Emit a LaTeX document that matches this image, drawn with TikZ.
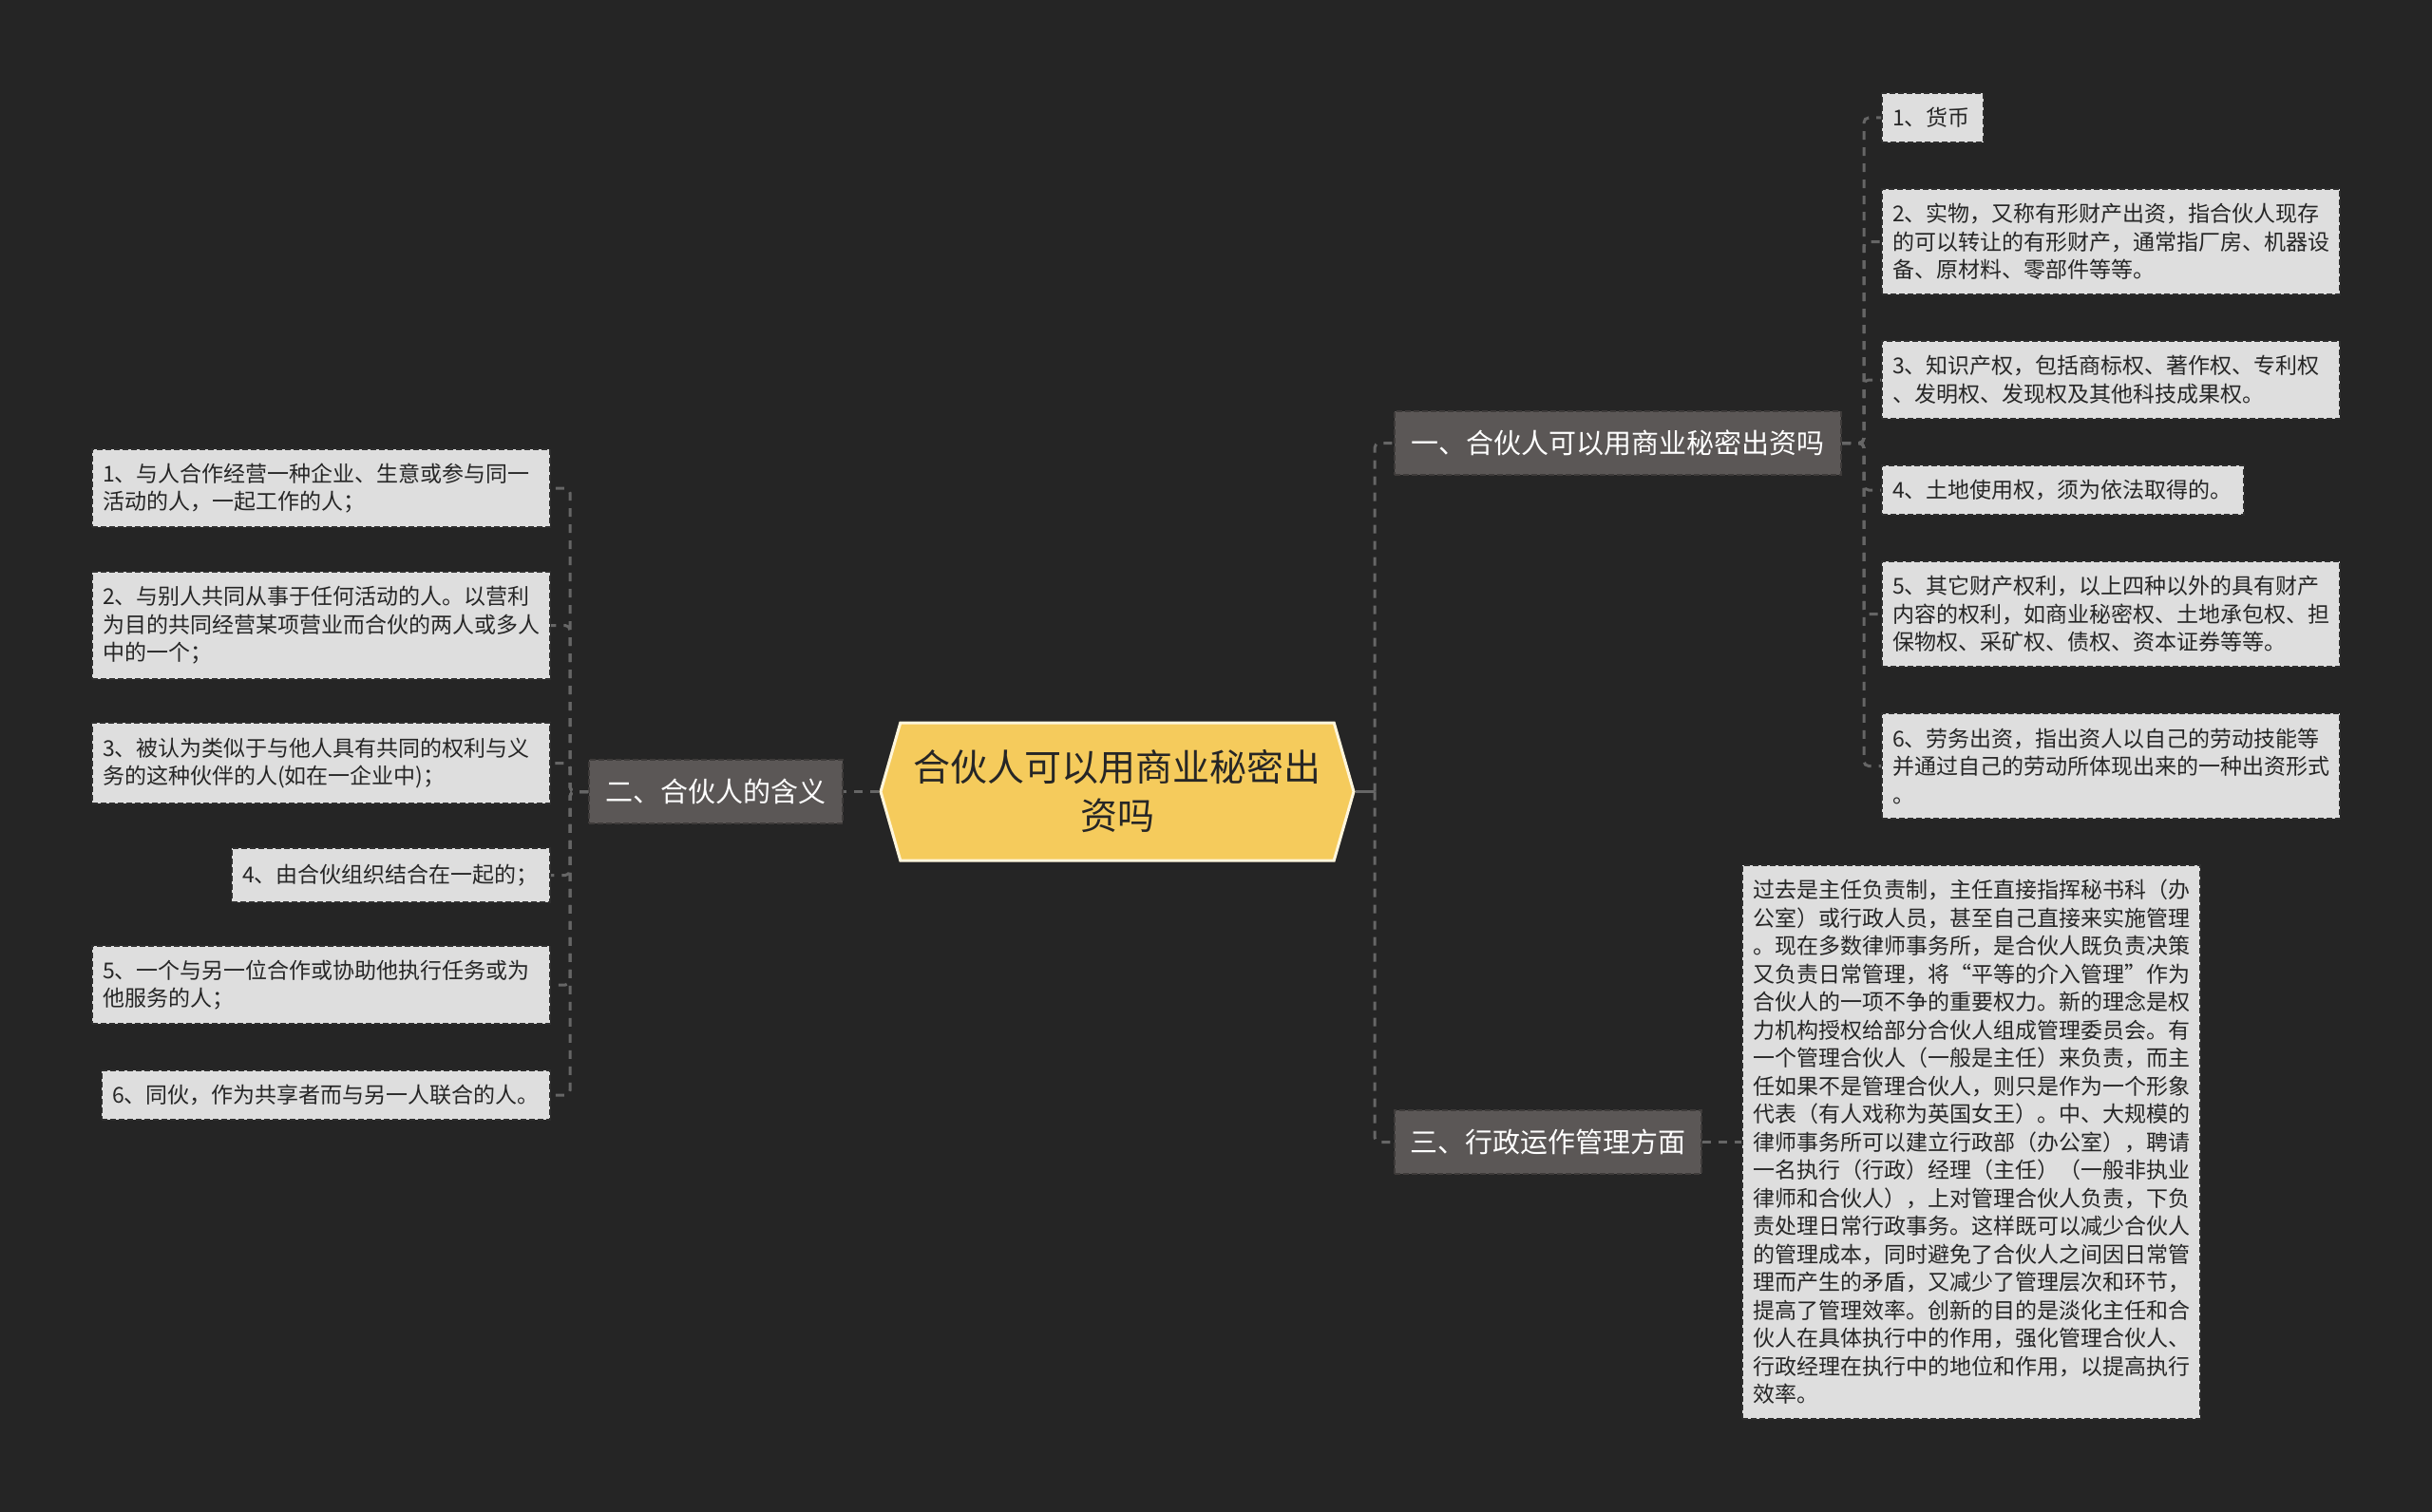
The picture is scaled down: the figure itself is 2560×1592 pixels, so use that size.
\documentclass[tikz,border=0pt]{standalone}
\usepackage{fontspec}
\setmainfont{Noto Sans CJK SC}
\usepackage{xcolor}
\usetikzlibrary{shapes.symbols}
\definecolor{bgcol}{HTML}{252525}
\definecolor{rootfill}{HTML}{F5CB5C}
\definecolor{rootline}{HTML}{FFF6DC}
\definecolor{subfill}{HTML}{5B5756}
\definecolor{subline}{HTML}{3E3B3A}
\definecolor{leaffill}{HTML}{DEDEDE}
\definecolor{leafline}{HTML}{2E2E2E}
\definecolor{linkcol}{HTML}{666666}

\begin{document}
\begin{tikzpicture}[x=1pt,y=-1pt,
root/.style={shape=signal,signal to=west and east,signal pointer angle=148,fill=rootfill,draw=rootline,line width=3pt,
minimum width=498pt,minimum height=145pt,inner sep=0pt,align=center,text=black!85,font=\fontsize{39}{51}\selectfont},
sub/.style={fill=subfill,draw=subline,line width=2pt,dash pattern=on 6pt off 3pt,minimum height=67pt,inner sep=0pt,
text=white,font=\fontsize{29}{35}\selectfont},
leaf/.style={fill=leaffill,draw=leafline,line width=2pt,dash pattern=on 6pt off 3pt,inner xsep=11pt,inner ysep=0pt,
align=left,text=black!85,font=\fontsize{23}{29.5}\selectfont},
conn/.style={draw=linkcol,line width=3pt,dash pattern=on 9pt off 8pt,rounded corners=5pt}]
\useasboundingbox (0,0) rectangle (2560,1592);
\fill[bgcol] (0,0) rectangle (2560,1592);

\node[root] (root) at (1176,833.5) {合伙人可以用商业秘密出\\资吗};
\node[sub,minimum width=470pt] (b1) at (1703,466.5) {一、合伙人可以用商业秘密出资吗};
\node[sub,minimum width=267pt] (b2) at (753.5,833.5) {二、合伙人的含义};
\node[sub,minimum width=323pt] (b3) at (1629.5,1202.5) {三、行政运作管理方面};

\node[leaf,anchor=east,text width=460pt,minimum height=82pt] (l1) at (580,514) {1、与人合作经营一种企业、生意或参与同一\\活动的人，一起工作的人；};
\node[leaf,anchor=east,text width=460pt,minimum height=113pt] (l2) at (580,658.5) {2、与别人共同从事于任何活动的人。以营利\\为目的共同经营某项营业而合伙的两人或多人\\中的一个；};
\node[leaf,anchor=east,text width=460pt,minimum height=85pt] (l3) at (580,803.5) {3、被认为类似于与他人具有共同的权利与义\\务的这种伙伴的人(如在一企业中)；};
\node[leaf,anchor=east,text width=313pt,minimum height=57pt] (l4) at (580,921.5) {4、由合伙组织结合在一起的；};
\node[leaf,anchor=east,text width=460pt,minimum height=82pt] (l5) at (580,1037) {5、一个与另一位合作或协助他执行任务或为\\他服务的人；};
\node[leaf,anchor=east,text width=450pt,minimum height=52pt] (l6) at (580,1153) {6、同伙，作为共享者而与另一人联合的人。};

\node[leaf,anchor=west,text width=85pt,minimum height=52pt] (r1) at (1980,124) {1、货币};
\node[leaf,anchor=west,text width=460pt,minimum height=111pt] (r2) at (1980,254.5) {2、实物，又称有形财产出资，指合伙人现存\\的可以转让的有形财产，通常指厂房、机器设\\备、原材料、零部件等等。};
\node[leaf,anchor=west,text width=460pt,minimum height=82pt] (r3) at (1980,400) {3、知识产权，包括商标权、著作权、专利权\\、发明权、发现权及其他科技成果权。};
\node[leaf,anchor=west,text width=359pt,minimum height=52pt] (r4) at (1980,516) {4、土地使用权，须为依法取得的。};
\node[leaf,anchor=west,text width=460pt,minimum height=111pt] (r5) at (1980,646.5) {5、其它财产权利，以上四种以外的具有财产\\内容的权利，如商业秘密权、土地承包权、担\\保物权、采矿权、债权、资本证券等等。};
\node[leaf,anchor=west,text width=460pt,minimum height=111pt] (r6) at (1980,806.5) {6、劳务出资，指出资人以自己的劳动技能等\\并通过自己的劳动所体现出来的一种出资形式\\。};

\node[leaf,anchor=west,text width=460pt,minimum height=583pt] (lg) at (1833,1202.5) {过去是主任负责制，主任直接指挥秘书科（办\\公室）或行政人员，甚至自己直接来实施管理\\。现在多数律师事务所，是合伙人既负责决策\\又负责日常管理，将“平等的介入管理”作为\\合伙人的一项不争的重要权力。新的理念是权\\力机构授权给部分合伙人组成管理委员会。有\\一个管理合伙人（一般是主任）来负责，而主\\任如果不是管理合伙人，则只是作为一个形象\\代表（有人戏称为英国女王）。中、大规模的\\律师事务所可以建立行政部（办公室），聘请\\一名执行（行政）经理（主任）（一般非执业\\律师和合伙人），上对管理合伙人负责，下负\\责处理日常行政事务。这样既可以减少合伙人\\的管理成本，同时避免了合伙人之间因日常管\\理而产生的矛盾，又减少了管理层次和环节，\\提高了管理效率。创新的目的是淡化主任和合\\伙人在具体执行中的作用，强化管理合伙人、\\行政经理在执行中的地位和作用，以提高执行\\效率。};

\coordinate (rj) at (1447,833.5);
\coordinate (lj) at (600,833.5);
\coordinate (j1) at (1962,466.5);
\draw[draw=linkcol,line width=3pt] (root.east) -- (rj);
\draw[conn] (root.west) -- (b2.east);
\foreach \b in {b1,b3}
  \draw[conn] (rj) |- (\b.west);
\foreach \n in {l1,l2,l3,l4,l5,l6}
  \draw[conn] (b2.west) -- (lj) |- (\n.east);
\foreach \n in {r1,r2,r3,r4,r5,r6}
  \draw[conn] (b1.east) -- (j1) |- (\n.west);
\draw[conn] (b3.east) -- (lg.west);
\end{tikzpicture}
\end{document}
